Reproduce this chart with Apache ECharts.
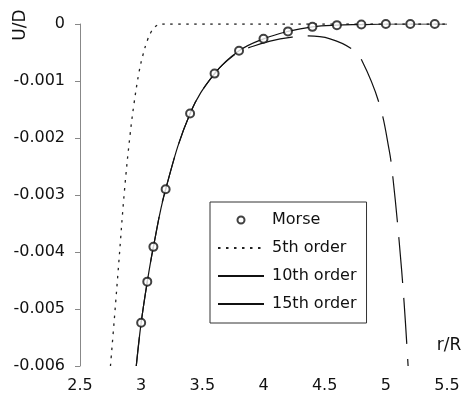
<!DOCTYPE html>
<html>
<head>
<meta charset="utf-8">
<script src="https://cdn.jsdelivr.net/npm/echarts@6/dist/echarts.min.js"></script>
<style>
  html, body { margin: 0; padding: 0; background: #fff; }
  #chart { width: 466px; height: 405px; }
</style>
</head>
<body>
<div id="chart"></div>
<script>
// Morse points (r/R, U/D)
const morseR = [3.0, 3.05, 3.1, 3.2, 3.4, 3.6, 3.8, 4.0, 4.2, 4.4, 4.6, 4.8, 5.0, 5.2, 5.4]
const morseU = [-0.00524, -0.00452, -0.00391, -0.0029, -0.00157, -0.00087, -0.00047, -0.00026, -0.00013, -0.00005, -0.00002, -0.00001, 0, 0, 0]

// 5th order expansion
const r5 = [2.749, 2.782, 2.817, 2.864, 2.909, 2.942, 2.983, 3.015, 3.052, 3.081, 3.113, 3.162, 5.5]
const u5 = [-0.006, -0.00514, -0.00419, -0.00291, -0.00195, -0.00139, -0.00084, -0.00054, -0.00028, -0.00014, -0.00005, 0, 0]

// 10th order expansion
const r10 = [2.96, 3.0, 3.05, 3.1, 3.2, 3.4, 3.6, 3.8, 3.874, 4.054, 4.233, 4.364, 4.544, 4.724, 4.806, 4.945, 5.027, 5.059, 5.108, 5.149, 5.182]
const u10 = [-0.006, -0.00524, -0.00452, -0.00391, -0.0029, -0.00157, -0.00087, -0.00048, -0.00042, -0.0003, -0.00023, -0.00021, -0.00026, -0.00044, -0.00065, -0.00139, -0.00221, -0.00272, -0.00379, -0.00488, -0.006]

// 15th order expansion
const r15 = [2.96, 3.0, 3.05, 3.1, 3.2, 3.4, 3.6, 3.8, 4.0, 4.2, 4.4, 4.6, 4.8, 5.0, 5.5]
const u15 = [-0.006, -0.00524, -0.00452, -0.00391, -0.0029, -0.00157, -0.00087, -0.00047, -0.00026, -0.00013, -0.00005, -0.00002, -0.00001, 0, 0]

const xTicks = { min: 2.5, max: 5.5, step: 0.5 }
const yTicks = { min: -0.006, max: 0, step: 0.001 }

function pairs (xs, ys) {
  return xs.map(function (x, i) { return [x, ys[i]] })
}

const font = 'DejaVu Sans'
let myChart = echarts.init(document.getElementById('chart'))

myChart.setOption({
  animation: false,
  backgroundColor: '#fff',
  grid: {
    left: 80,
    right: 19,
    top: 24,
    bottom: 39
  },
  xAxis: {
    type: 'value',
    min: xTicks.min,
    max: xTicks.max,
    interval: xTicks.step,
    axisLine: { show: false },
    axisTick: { show: false },
    splitLine: { show: false },
    axisLabel: {
      margin: 12,
      color: '#111',
      fontFamily: font,
      fontSize: 16
    }
  },
  yAxis: {
    type: 'value',
    min: yTicks.min,
    max: yTicks.max,
    interval: yTicks.step,
    axisLine: {
      show: true,
      lineStyle: { color: '#888', width: 1 }
    },
    axisTick: {
      show: true,
      length: 5,
      lineStyle: { color: '#888', width: 1 }
    },
    splitLine: { show: false },
    axisLabel: {
      margin: 15,
      color: '#111',
      fontFamily: font,
      fontSize: 16,
      formatter: function (v) {
        return v === 0 ? '0' : v.toFixed(3)
      }
    }
  },
  legend: {
    orient: 'vertical',
    left: 210,
    top: 202,
    padding: [10, 10, 11, 7],
    itemGap: 12,
    itemWidth: 46,
    itemHeight: 7,
    borderColor: '#333',
    borderWidth: 1,
    backgroundColor: '#fff',
    selectedMode: false,
    textStyle: {
      color: '#111',
      fontFamily: font,
      fontSize: 16,
      lineHeight: 16,
      padding: [0, 0, 0, 3]
    },
    data: [
      { name: 'Morse' },
      { name: '5th order', itemStyle: { opacity: 0 } },
      { name: '10th order', itemStyle: { opacity: 0 }, lineStyle: { type: 'solid' } },
      { name: '15th order', itemStyle: { opacity: 0 } }
    ]
  },
  graphic: [
    {
      type: 'text',
      x: 21,
      y: 25,
      rotation: Math.PI / 2,
      style: {
        text: 'U/D',
        fill: '#111',
        font: '17px "DejaVu Sans"',
        textAlign: 'center',
        textVerticalAlign: 'middle'
      }
    },
    {
      type: 'text',
      x: 449,
      y: 346,
      style: {
        text: 'r/R',
        fill: '#111',
        font: '17px "DejaVu Sans"',
        textAlign: 'center',
        textVerticalAlign: 'middle'
      }
    }
  ],
  series: [
    {
      name: '5th order',
      type: 'line',
      symbol: 'none',
      smooth: 0.4,
      lineStyle: { color: '#222', width: 1.3, type: [2.5, 5.5] },
      itemStyle: { color: '#222' },
      data: pairs(r5, u5)
    },
    {
      name: '10th order',
      type: 'line',
      symbol: 'none',
      smooth: 0.4,
      lineStyle: { color: '#111', width: 1.2, type: [46, 15], dashOffset: 17 },
      itemStyle: { color: '#111' },
      data: pairs(r10, u10)
    },
    {
      name: '15th order',
      type: 'line',
      symbol: 'none',
      smooth: 0.4,
      lineStyle: { color: '#111', width: 1.2 },
      itemStyle: { color: '#111' },
      data: pairs(r15, u15)
    },
    {
      name: 'Morse',
      type: 'scatter',
      symbol: 'circle',
      symbolSize: 8,
      z: 5,
      itemStyle: { color: '#fff', borderColor: '#111', borderWidth: 2 },
      data: pairs(morseR, morseU)
    }
  ]
})
</script>
</body>
</html>
